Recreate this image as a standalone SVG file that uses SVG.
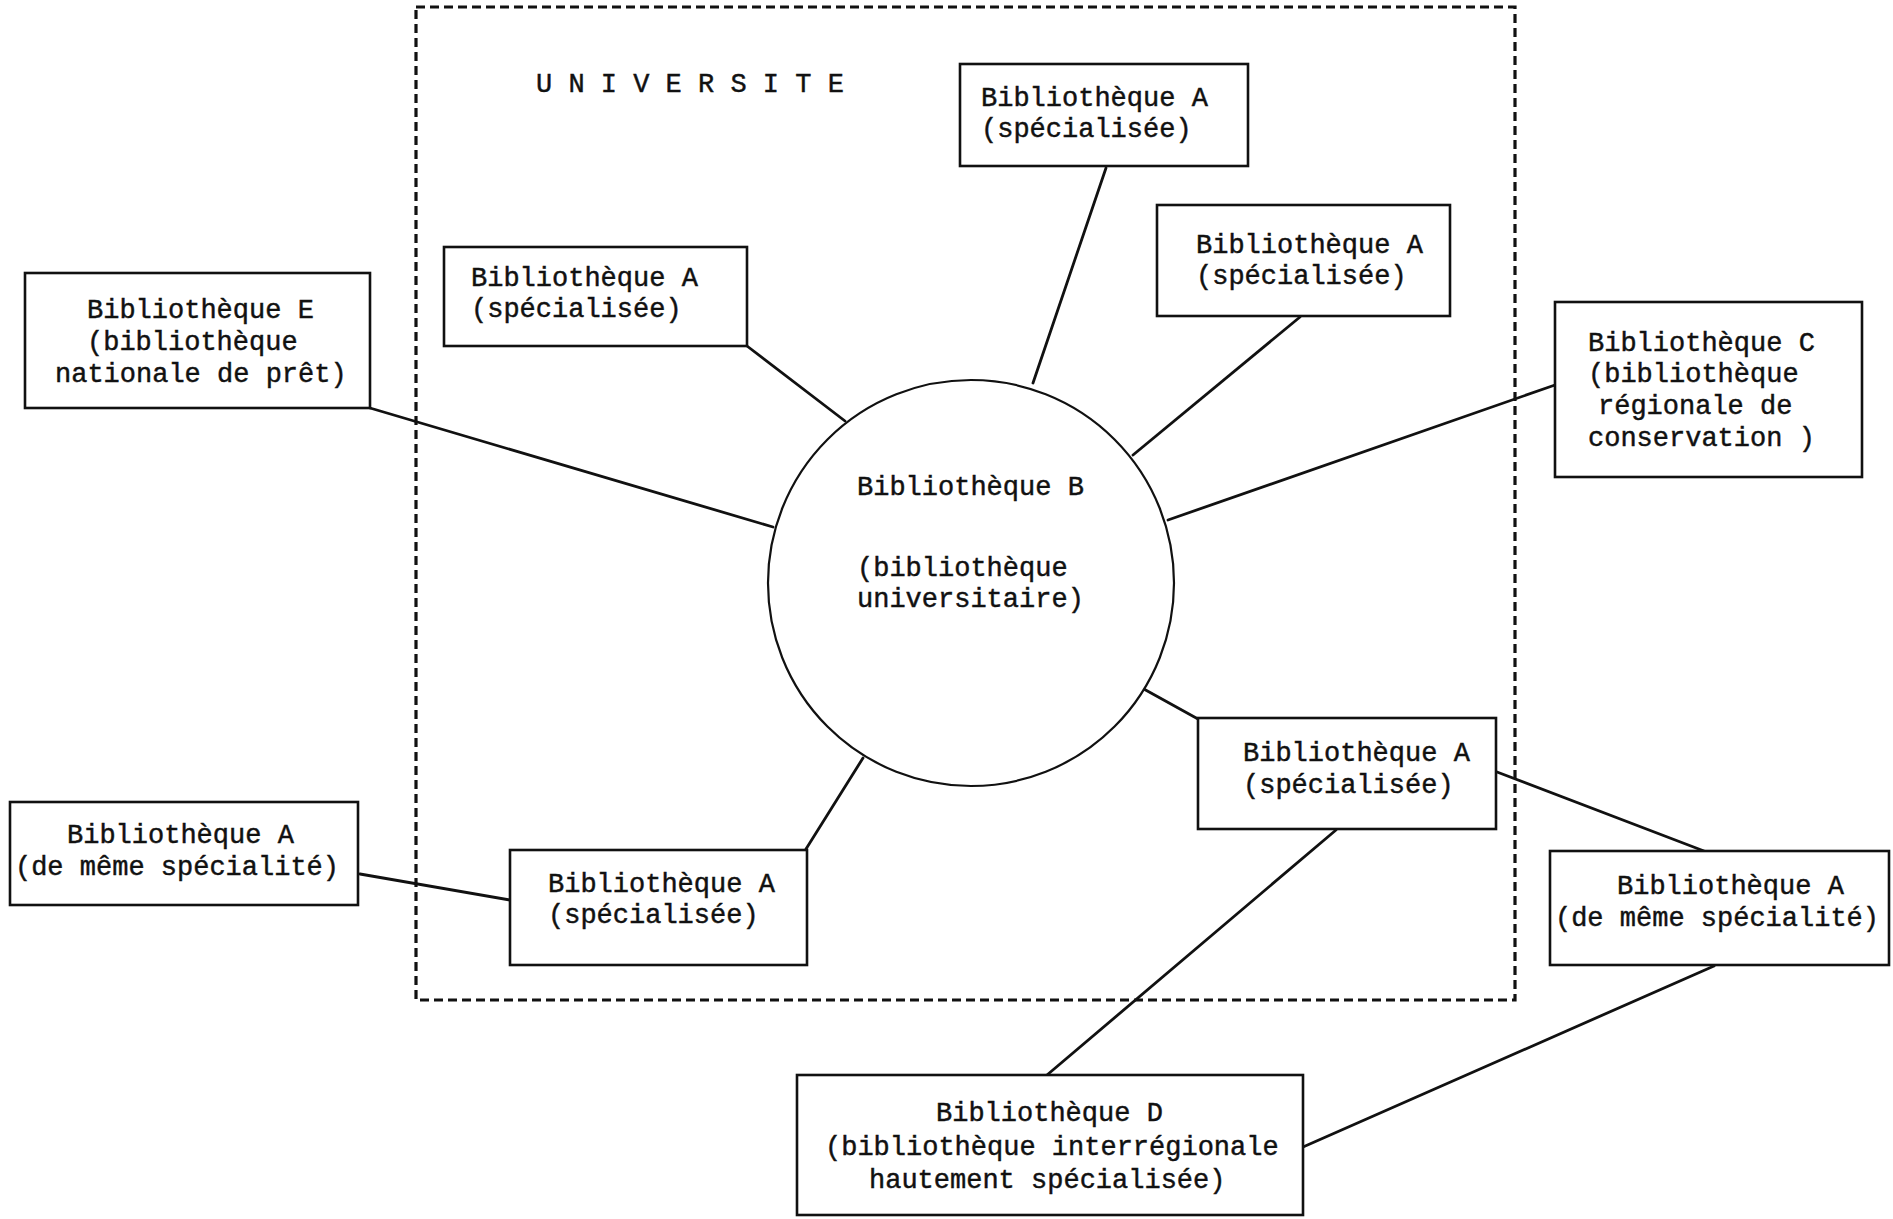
<svg xmlns="http://www.w3.org/2000/svg" width="1893" height="1219" viewBox="0 0 1893 1219">
  <style>
    .bx { fill: #fff; stroke: #111; stroke-width: 2.6; }
    .cn { stroke: #111; stroke-width: 2.8; fill: none; stroke-linecap: round; }
    .bd { fill: none; stroke: #111; stroke-width: 3.2; stroke-dasharray: 9 5; }
    text { font-family: "Liberation Mono", "DejaVu Sans Mono", monospace; font-size: 27px; fill: #111; stroke: #111; stroke-width: 0.45; }
    .c { text-anchor: middle; }
  </style>
  <rect width="1893" height="1219" fill="#fff"/>
  <g id="universite">
    <rect class="bd" x="416" y="7" width="1099" height="993"/>
    <text x="536" y="92">U N I V E R S I T E</text>
  </g>
  <g id="connectors">
    <line class="cn" x1="1106" y1="168" x2="1033" y2="383"/>
    <line class="cn" x1="747" y1="346" x2="845" y2="421"/>
    <line class="cn" x1="1300" y1="317" x2="1133" y2="455"/>
    <line class="cn" x1="370" y1="408" x2="773" y2="527"/>
    <line class="cn" x1="1555" y1="385" x2="1168" y2="520"/>
    <line class="cn" x1="1142" y1="688" x2="1198" y2="719"/>
    <line class="cn" x1="863" y1="758" x2="806" y2="849"/>
    <line class="cn" x1="360" y1="874" x2="510" y2="900"/>
    <line class="cn" x1="1497" y1="772" x2="1704" y2="851"/>
    <line class="cn" x1="1336" y1="830" x2="1047" y2="1075"/>
    <line class="cn" x1="1303" y1="1147" x2="1714" y2="966"/>
  </g>
  <g id="node-B">
    <circle cx="971" cy="583" r="203" fill="#fff" stroke="#111" stroke-width="2.2"/>
    <text x="857" y="495">Bibliothèque B</text>
    <text x="857" y="576">(bibliothèque</text>
    <text x="857" y="607">universitaire)</text>
  </g>
  <g id="node-A-top">
    <rect class="bx" x="960" y="64" width="288" height="102"/>
    <text x="981" y="106">Bibliothèque A</text>
    <text x="981" y="137">(spécialisée)</text>
  </g>
  <g id="node-A-left">
    <rect class="bx" x="444" y="247" width="303" height="99"/>
    <text x="471" y="286">Bibliothèque A</text>
    <text x="471" y="317">(spécialisée)</text>
  </g>
  <g id="node-A-right">
    <rect class="bx" x="1157" y="205" width="293" height="111"/>
    <text x="1196" y="253">Bibliothèque A</text>
    <text x="1196" y="284">(spécialisée)</text>
  </g>
  <g id="node-E">
    <rect class="bx" x="25" y="273" width="345" height="135"/>
    <text x="87" y="318">Bibliothèque E</text>
    <text x="87" y="350">(bibliothèque</text>
    <text x="55" y="382">nationale de prêt)</text>
  </g>
  <g id="node-C">
    <rect class="bx" x="1555" y="302" width="307" height="175"/>
    <text x="1588" y="351">Bibliothèque C</text>
    <text x="1588" y="382">(bibliothèque</text>
    <text x="1598" y="414">régionale de</text>
    <text x="1588" y="446">conservation )</text>
  </g>
  <g id="node-A-br">
    <rect class="bx" x="1198" y="718" width="298" height="111"/>
    <text x="1243" y="761">Bibliothèque A</text>
    <text x="1243" y="793">(spécialisée)</text>
  </g>
  <g id="node-A-same-right">
    <rect class="bx" x="1550" y="851" width="339" height="114"/>
    <text x="1617" y="894">Bibliothèque A</text>
    <text class="c" x="1717" y="926">(de même spécialité)</text>
  </g>
  <g id="node-A-same-left">
    <rect class="bx" x="10" y="802" width="348" height="103"/>
    <text x="67" y="843">Bibliothèque A</text>
    <text class="c" x="177" y="875">(de même spécialité)</text>
  </g>
  <g id="node-A-bottom">
    <rect class="bx" x="510" y="850" width="297" height="115"/>
    <text x="548" y="892">Bibliothèque A</text>
    <text x="548" y="923">(spécialisée)</text>
  </g>
  <g id="node-D">
    <rect class="bx" x="797" y="1075" width="506" height="140"/>
    <text x="936" y="1121">Bibliothèque D</text>
    <text x="825" y="1155">(bibliothèque interrégionale</text>
    <text x="869" y="1188">hautement spécialisée)</text>
  </g>
</svg>
